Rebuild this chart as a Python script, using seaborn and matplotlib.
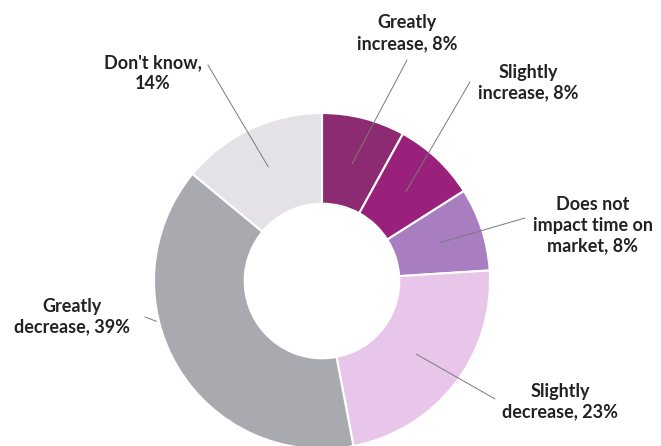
import numpy as np
import matplotlib.pyplot as plt
import seaborn as sns

labels = ["Greatly\nincrease, 8%", "Slightly\nincrease, 8%", "Does not\nimpact time on\nmarket, 8%",
          "Slightly\ndecrease, 23%", "Greatly\ndecrease, 39%", "Don't know,\n14%"]
shares = [8, 8, 8, 23, 39, 14]
colors = ["#8c2a72", "#9a217b", "#a87ec0", "#e8c6ea", "#a9a9b0", "#e5e2e7"]

sns.set_theme(style="white")
plt.rcParams["font.family"] = ["Lato", "DejaVu Sans"]

fig = plt.figure(figsize=(6.61, 4.46), dpi=100)
ax = fig.add_axes([0, 0, 1, 1])
wedges, _ = ax.pie(shares, colors=colors, startangle=90, counterclock=False,
                   wedgeprops=dict(width=0.54, edgecolor="white", linewidth=1.5))

# label placement (data units, radius 1 = outer edge)
text_xy = [(0.506, 1.476), (1.226, 1.179), (1.613, 0.333),
           (1.417, -0.720), (-1.488, -0.214), (-1.006, 1.238)]
line_start = [(0.506, 1.315), (0.881, 1.185), (1.208, 0.375),
              (1.030, -0.702), (-1.054, -0.214), (-0.679, 1.286)]
line_r = [0.72, 0.73, 0.74, 0.71, None, 0.75]

for w, lab, txy, st, r in zip(wedges, labels, text_xy, line_start, line_r):
    if r is None:
        ex, ey = -0.985, -0.240
    else:
        mid = np.deg2rad((w.theta1 + w.theta2) / 2)
        ex, ey = r * np.cos(mid), r * np.sin(mid)
    ax.plot([st[0], ex], [st[1], ey], color="#7a7a7a", lw=0.7, zorder=3)
    ax.text(txy[0], txy[1], lab, ha="center", va="center", fontsize=13,
            fontweight="bold", color="#222222", linespacing=1.25)

ax.set_aspect("auto")
ax.set_xlim(-322 / 168, 339 / 168)
ax.set_ylim(-165 / 168, 281 / 168)
ax.axis("off")

fig.savefig("out.png", dpi=100, facecolor="white")
